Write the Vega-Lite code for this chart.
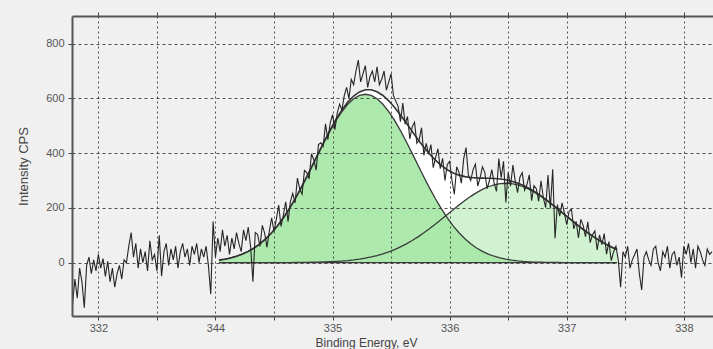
{
  "$schema": "https://vega.github.io/schema/vega-lite/v6.json",
  "autosize": "none",
  "width": 641,
  "height": 300,
  "padding": {"left": 72, "top": 16, "right": 0, "bottom": 33},
  "background": "#f0f0f0",
  "config": {
    "view": {"stroke": null},
    "font": "Liberation Sans",
    "axis": {
      "labelFont": "Liberation Sans",
      "titleFont": "Liberation Sans",
      "labelColor": "#555555",
      "titleColor": "#444444",
      "labelFontSize": 11,
      "titleFontSize": 12,
      "titleFontWeight": "normal",
      "domainColor": "#555555",
      "domainWidth": 2,
      "tickColor": "#444444",
      "tickSize": 4,
      "gridColor": "#333333",
      "gridWidth": 1,
      "gridOpacity": 0.85
    }
  },
  "datasets": {
    "fit": [
      {"e":334.03,"p1":9,"p2":0,"env":9},
      {"e":334.08,"p1":12.5,"p2":0,"env":12.5},
      {"e":334.13,"p1":17.2,"p2":0,"env":17.2},
      {"e":334.18,"p1":23.3,"p2":0,"env":23.3},
      {"e":334.23,"p1":31.2,"p2":0,"env":31.2},
      {"e":334.28,"p1":41.1,"p2":0,"env":41.1},
      {"e":334.33,"p1":53.6,"p2":0,"env":53.6},
      {"e":334.38,"p1":68.8,"p2":0,"env":68.8},
      {"e":334.43,"p1":87.2,"p2":0.1,"env":87.3},
      {"e":334.48,"p1":109,"p2":0.1,"env":109.1},
      {"e":334.53,"p1":134.4,"p2":0.2,"env":134.6},
      {"e":334.58,"p1":163.5,"p2":0.2,"env":163.7},
      {"e":334.63,"p1":196.2,"p2":0.3,"env":196.5},
      {"e":334.68,"p1":232.3,"p2":0.4,"env":232.7},
      {"e":334.73,"p1":271.4,"p2":0.6,"env":272},
      {"e":334.78,"p1":312.9,"p2":0.9,"env":313.8},
      {"e":334.83,"p1":355.7,"p2":1.3,"env":357},
      {"e":334.88,"p1":399,"p2":1.7,"env":400.7},
      {"e":334.93,"p1":441.6,"p2":2.4,"env":444},
      {"e":334.98,"p1":482.2,"p2":3.2,"env":485.4},
      {"e":335.03,"p1":519.4,"p2":4.3,"env":523.7},
      {"e":335.08,"p1":552,"p2":5.8,"env":557.8},
      {"e":335.13,"p1":578.7,"p2":7.6,"env":586.3},
      {"e":335.18,"p1":598.6,"p2":9.9,"env":608.5},
      {"e":335.23,"p1":610.9,"p2":12.7,"env":623.6},
      {"e":335.28,"p1":615,"p2":16.3,"env":631.3},
      {"e":335.33,"p1":610.9,"p2":20.6,"env":631.5},
      {"e":335.38,"p1":598.6,"p2":25.8,"env":624.4},
      {"e":335.43,"p1":578.7,"p2":32,"env":610.7},
      {"e":335.48,"p1":552,"p2":39.2,"env":591.2},
      {"e":335.53,"p1":519.4,"p2":47.7,"env":567.1},
      {"e":335.58,"p1":482.2,"p2":57.4,"env":539.6},
      {"e":335.63,"p1":441.6,"p2":68.4,"env":510},
      {"e":335.68,"p1":399,"p2":80.6,"env":479.6},
      {"e":335.73,"p1":355.7,"p2":94.2,"env":449.9},
      {"e":335.78,"p1":312.9,"p2":108.8,"env":421.7},
      {"e":335.83,"p1":271.4,"p2":124.6,"env":396},
      {"e":335.88,"p1":232.3,"p2":141.2,"env":373.5},
      {"e":335.93,"p1":196.2,"p2":158.4,"env":354.6},
      {"e":335.98,"p1":163.5,"p2":175.9,"env":339.4},
      {"e":336.03,"p1":134.4,"p2":193.4,"env":327.8},
      {"e":336.08,"p1":109,"p2":210.6,"env":319.6},
      {"e":336.13,"p1":87.2,"p2":227,"env":314.2},
      {"e":336.18,"p1":68.8,"p2":242.2,"env":311},
      {"e":336.23,"p1":53.6,"p2":255.9,"env":309.5},
      {"e":336.28,"p1":41.1,"p2":267.7,"env":308.8},
      {"e":336.33,"p1":31.2,"p2":277.2,"env":308.4},
      {"e":336.38,"p1":23.3,"p2":284.3,"env":307.6},
      {"e":336.43,"p1":17.2,"p2":288.6,"env":305.8},
      {"e":336.48,"p1":12.5,"p2":290,"env":302.5},
      {"e":336.53,"p1":9,"p2":288.6,"env":297.6},
      {"e":336.58,"p1":6.4,"p2":284.3,"env":290.7},
      {"e":336.63,"p1":4.5,"p2":277.2,"env":281.7},
      {"e":336.68,"p1":3.1,"p2":267.7,"env":270.8},
      {"e":336.73,"p1":2.1,"p2":255.9,"env":258},
      {"e":336.78,"p1":1.4,"p2":242.2,"env":243.6},
      {"e":336.83,"p1":0.9,"p2":227,"env":227.9},
      {"e":336.88,"p1":0.6,"p2":210.6,"env":211.2},
      {"e":336.93,"p1":0.4,"p2":193.4,"env":193.8},
      {"e":336.98,"p1":0.2,"p2":175.9,"env":176.1},
      {"e":337.03,"p1":0.1,"p2":158.4,"env":158.5},
      {"e":337.08,"p1":0.1,"p2":141.2,"env":141.3},
      {"e":337.13,"p1":0,"p2":124.6,"env":124.6},
      {"e":337.18,"p1":0,"p2":108.8,"env":108.8},
      {"e":337.23,"p1":0,"p2":94.2,"env":94.2},
      {"e":337.28,"p1":0,"p2":80.6,"env":80.6},
      {"e":337.33,"p1":0,"p2":68.4,"env":68.4},
      {"e":337.38,"p1":0,"p2":57.4,"env":57.4},
      {"e":337.43,"p1":0,"p2":47.7,"env":47.7}
    ],
    "raw": [
      {"e":332.78,"cps":-150},{"e":332.80,"cps":-60},{"e":332.82,"cps":-130},{"e":332.84,"cps":-20},
      {"e":332.86,"cps":-70},{"e":332.88,"cps":-165},{"e":332.90,"cps":-10},{"e":332.92,"cps":20},
      {"e":332.94,"cps":-40},{"e":332.96,"cps":10},{"e":332.98,"cps":-30},{"e":333.00,"cps":30},
      {"e":333.02,"cps":-20},{"e":333.04,"cps":15},{"e":333.06,"cps":-50},{"e":333.08,"cps":5},
      {"e":333.10,"cps":-70},{"e":333.12,"cps":-20},{"e":333.14,"cps":-90},{"e":333.16,"cps":-40},
      {"e":333.18,"cps":-10},{"e":333.20,"cps":-60},{"e":333.22,"cps":10},{"e":333.24,"cps":0},
      {"e":333.26,"cps":60},{"e":333.28,"cps":110},{"e":333.30,"cps":20},{"e":333.32,"cps":70},
      {"e":333.34,"cps":-20},{"e":333.36,"cps":50},{"e":333.38,"cps":0},{"e":333.40,"cps":40},
      {"e":333.42,"cps":-30},{"e":333.44,"cps":80},{"e":333.46,"cps":10},{"e":333.48,"cps":30},
      {"e":333.50,"cps":-30},{"e":333.52,"cps":100},{"e":333.54,"cps":-50},{"e":333.56,"cps":40},
      {"e":333.58,"cps":70},{"e":333.60,"cps":-10},{"e":333.62,"cps":50},{"e":333.64,"cps":10},
      {"e":333.66,"cps":60},{"e":333.68,"cps":-20},{"e":333.70,"cps":40},{"e":333.72,"cps":70},
      {"e":333.74,"cps":20},{"e":333.76,"cps":50},{"e":333.78,"cps":-10},{"e":333.80,"cps":60},
      {"e":333.82,"cps":30},{"e":333.84,"cps":70},{"e":333.86,"cps":0},{"e":333.88,"cps":50},
      {"e":333.90,"cps":20},{"e":333.92,"cps":60},{"e":333.94,"cps":-10},{"e":333.96,"cps":-115},
      {"e":333.98,"cps":150},{"e":334.00,"cps":20},{"e":334.02,"cps":90},{"e":334.04,"cps":40},
      {"e":334.06,"cps":120},{"e":334.08,"cps":60},{"e":334.10,"cps":100},{"e":334.12,"cps":30},
      {"e":334.14,"cps":90},{"e":334.16,"cps":50},{"e":334.18,"cps":110},{"e":334.20,"cps":70},
      {"e":334.22,"cps":40},{"e":334.24,"cps":120},{"e":334.26,"cps":80},{"e":334.28,"cps":130},
      {"e":334.30,"cps":60},{"e":334.32,"cps":-70},{"e":334.34,"cps":110},{"e":334.36,"cps":103},
      {"e":334.38,"cps":59},{"e":334.40,"cps":136},{"e":334.42,"cps":108},{"e":334.44,"cps":56},
      {"e":334.46,"cps":115},{"e":334.48,"cps":164},{"e":334.50,"cps":114},{"e":334.52,"cps":159},
      {"e":334.54,"cps":210},{"e":334.56,"cps":132},{"e":334.58,"cps":174},{"e":334.60,"cps":222},
      {"e":334.62,"cps":150},{"e":334.64,"cps":223},{"e":334.66,"cps":253},{"e":334.68,"cps":218},
      {"e":334.70,"cps":309},{"e":334.72,"cps":269},{"e":334.74,"cps":250},{"e":334.76,"cps":337},
      {"e":334.78,"cps":329},{"e":334.80,"cps":306},{"e":334.82,"cps":398},{"e":334.84,"cps":376},
      {"e":334.86,"cps":338},{"e":334.88,"cps":431},{"e":334.90,"cps":438},{"e":334.92,"cps":425},
      {"e":334.94,"cps":507},{"e":334.96,"cps":449},{"e":334.98,"cps":510},{"e":335.00,"cps":541},
      {"e":335.02,"cps":486},{"e":335.04,"cps":546},{"e":335.06,"cps":579},{"e":335.08,"cps":558},
      {"e":335.10,"cps":610},{"e":335.12,"cps":640},{"e":335.14,"cps":600},{"e":335.16,"cps":670},
      {"e":335.18,"cps":650},{"e":335.20,"cps":700},{"e":335.22,"cps":740},{"e":335.24,"cps":660},
      {"e":335.26,"cps":690},{"e":335.28,"cps":720},{"e":335.30,"cps":640},{"e":335.32,"cps":680},
      {"e":335.34,"cps":700},{"e":335.36,"cps":660},{"e":335.38,"cps":715},{"e":335.40,"cps":650},
      {"e":335.42,"cps":670},{"e":335.44,"cps":700},{"e":335.46,"cps":630},{"e":335.48,"cps":660},
      {"e":335.50,"cps":690},{"e":335.52,"cps":610},{"e":335.54,"cps":590},{"e":335.56,"cps":571},
      {"e":335.58,"cps":515},{"e":335.60,"cps":583},{"e":335.62,"cps":506},{"e":335.64,"cps":534},
      {"e":335.66,"cps":452},{"e":335.68,"cps":495},{"e":335.70,"cps":513},{"e":335.72,"cps":436},
      {"e":335.74,"cps":449},{"e":335.76,"cps":493},{"e":335.78,"cps":392},{"e":335.80,"cps":436},
      {"e":335.82,"cps":396},{"e":335.84,"cps":431},{"e":335.86,"cps":347},{"e":335.88,"cps":384},
      {"e":335.90,"cps":416},{"e":335.92,"cps":343},{"e":335.94,"cps":381},{"e":335.96,"cps":300},
      {"e":335.98,"cps":359},{"e":336.00,"cps":370},{"e":336.02,"cps":300},{"e":336.04,"cps":250},
      {"e":336.06,"cps":350},{"e":336.08,"cps":330},{"e":336.10,"cps":290},{"e":336.12,"cps":380},
      {"e":336.14,"cps":420},{"e":336.16,"cps":320},{"e":336.18,"cps":300},{"e":336.20,"cps":340},
      {"e":336.22,"cps":360},{"e":336.24,"cps":280},{"e":336.26,"cps":310},{"e":336.28,"cps":350},
      {"e":336.30,"cps":330},{"e":336.32,"cps":270},{"e":336.34,"cps":300},{"e":336.36,"cps":340},
      {"e":336.38,"cps":290},{"e":336.40,"cps":260},{"e":336.42,"cps":380},{"e":336.44,"cps":310},
      {"e":336.46,"cps":370},{"e":336.48,"cps":220},{"e":336.50,"cps":330},{"e":336.52,"cps":279},
      {"e":336.54,"cps":356},{"e":336.56,"cps":299},{"e":336.58,"cps":256},{"e":336.60,"cps":312},
      {"e":336.62,"cps":329},{"e":336.64,"cps":265},{"e":336.66,"cps":285},{"e":336.68,"cps":321},
      {"e":336.70,"cps":226},{"e":336.72,"cps":281},{"e":336.74,"cps":270},{"e":336.76,"cps":224},
      {"e":336.78,"cps":299},{"e":336.80,"cps":237},{"e":336.82,"cps":201},{"e":336.84,"cps":320},
      {"e":336.86,"cps":198},{"e":336.88,"cps":341},{"e":336.90,"cps":89},{"e":336.92,"cps":212},
      {"e":336.94,"cps":170},{"e":336.96,"cps":218},{"e":336.98,"cps":181},{"e":337.00,"cps":139},
      {"e":337.02,"cps":187},{"e":337.04,"cps":195},{"e":337.06,"cps":123},{"e":337.08,"cps":151},
      {"e":337.10,"cps":90},{"e":337.12,"cps":158},{"e":337.14,"cps":136},{"e":337.16,"cps":95},
      {"e":337.18,"cps":149},{"e":337.20,"cps":73},{"e":337.22,"cps":102},{"e":337.24,"cps":116},
      {"e":337.26,"cps":46},{"e":337.28,"cps":101},{"e":337.30,"cps":66},{"e":337.32,"cps":106},
      {"e":337.34,"cps":31},{"e":337.36,"cps":77},{"e":337.38,"cps":7},{"e":337.40,"cps":40},
      {"e":337.42,"cps":60},{"e":337.44,"cps":10},{"e":337.46,"cps":-90},{"e":337.48,"cps":40},
      {"e":337.50,"cps":20},{"e":337.52,"cps":60},{"e":337.54,"cps":-20},{"e":337.56,"cps":10},
      {"e":337.58,"cps":30},{"e":337.60,"cps":50},{"e":337.62,"cps":-40},{"e":337.64,"cps":-100},
      {"e":337.66,"cps":20},{"e":337.68,"cps":40},{"e":337.70,"cps":10},{"e":337.72,"cps":-10},
      {"e":337.74,"cps":50},{"e":337.76,"cps":60},{"e":337.78,"cps":0},{"e":337.80,"cps":-30},
      {"e":337.82,"cps":40},{"e":337.84,"cps":20},{"e":337.86,"cps":60},{"e":337.88,"cps":-20},
      {"e":337.90,"cps":30},{"e":337.92,"cps":40},{"e":337.94,"cps":-10},{"e":337.96,"cps":20},
      {"e":337.98,"cps":-55},{"e":338.00,"cps":60},{"e":338.02,"cps":30},{"e":338.04,"cps":70},
      {"e":338.06,"cps":0},{"e":338.08,"cps":50},{"e":338.10,"cps":-20},{"e":338.12,"cps":60},
      {"e":338.14,"cps":40},{"e":338.16,"cps":10},{"e":338.18,"cps":-10},{"e":338.20,"cps":50},
      {"e":338.22,"cps":30},{"e":338.24,"cps":40}
    ]
  },
  "resolve": {"axis": {"x": "independent"}},
  "layer": [
    {
      "data": {"name": "fit"},
      "mark": {"type": "area", "color": "#ffffff"},
      "encoding": {
        "x": {
          "field": "e", "type": "quantitative",
          "scale": {"domain": [332.775, 338.249], "nice": false, "zero": false},
          "axis": {
            "orient": "bottom",
            "zindex": 1,
            "values": [333, 333.5, 334, 334.5, 335, 335.5, 336, 336.5, 337, 337.5, 338],
            "labelExpr": "datum.value == 333 ? '332' : datum.value == 334 ? '344' : (datum.value % 1 == 0 ? format(datum.value, 'd') : '')",
            "labelOverlap": false,
            "labelFlush": false,
            "labelPadding": 2,
            "gridDash": [2, 3],
            "title": "Binding Energy, eV",
            "titleX": 294,
            "titlePadding": 4
          }
        },
        "y": {
          "field": "env", "type": "quantitative",
          "scale": {"domain": [-195, 901], "nice": false, "zero": false},
          "axis": {
            "zindex": 1,
            "values": [0, 200, 400, 600, 800],
            "labelPadding": 4,
            "gridDash": [3, 3],
            "title": "Intensity CPS",
            "titleFontSize": 13,
            "titlePadding": 15
          }
        },
        "y2": {"datum": 0}
      }
    },
    {
      "data": {"name": "fit"},
      "mark": {"type": "area", "color": "#d0f2d0"},
      "encoding": {
        "x": {"field": "e", "type": "quantitative", "axis": null},
        "y": {"field": "p2", "type": "quantitative"},
        "y2": {"datum": 0}
      }
    },
    {
      "data": {"name": "fit"},
      "mark": {"type": "area", "color": "#a9e8a9", "opacity": 0.95},
      "encoding": {
        "x": {"field": "e", "type": "quantitative", "axis": null},
        "y": {"field": "p1", "type": "quantitative"},
        "y2": {"datum": 0}
      }
    },
    {
      "data": {"name": "fit"},
      "mark": {"type": "line", "color": "#3a3a3a", "strokeWidth": 1.3},
      "encoding": {
        "x": {"field": "e", "type": "quantitative", "axis": null},
        "y": {"datum": 0}
      }
    },
    {
      "data": {"name": "fit"},
      "mark": {"type": "line", "color": "#3a3a3a", "strokeWidth": 1.3},
      "encoding": {
        "x": {"field": "e", "type": "quantitative", "axis": null},
        "y": {"field": "p2", "type": "quantitative"}
      }
    },
    {
      "data": {"name": "fit"},
      "mark": {"type": "line", "color": "#3a3a3a", "strokeWidth": 1.3},
      "encoding": {
        "x": {"field": "e", "type": "quantitative", "axis": null},
        "y": {"field": "p1", "type": "quantitative"}
      }
    },
    {
      "data": {"name": "fit"},
      "mark": {"type": "line", "color": "#333333", "strokeWidth": 1.6},
      "encoding": {
        "x": {"field": "e", "type": "quantitative", "axis": null},
        "y": {"field": "env", "type": "quantitative"}
      }
    },
    {
      "data": {"name": "raw"},
      "mark": {"type": "line", "color": "#262626", "strokeWidth": 1.1, "clip": true},
      "encoding": {
        "x": {
          "field": "e", "type": "quantitative",
          "axis": {
            "orient": "top",
            "values": [333, 333.5, 334, 334.5, 335, 335.5, 336, 336.5, 337, 337.5, 338],
            "labels": false,
            "grid": false,
            "title": null
          }
        },
        "y": {"field": "cps", "type": "quantitative"}
      }
    }
  ]
}
